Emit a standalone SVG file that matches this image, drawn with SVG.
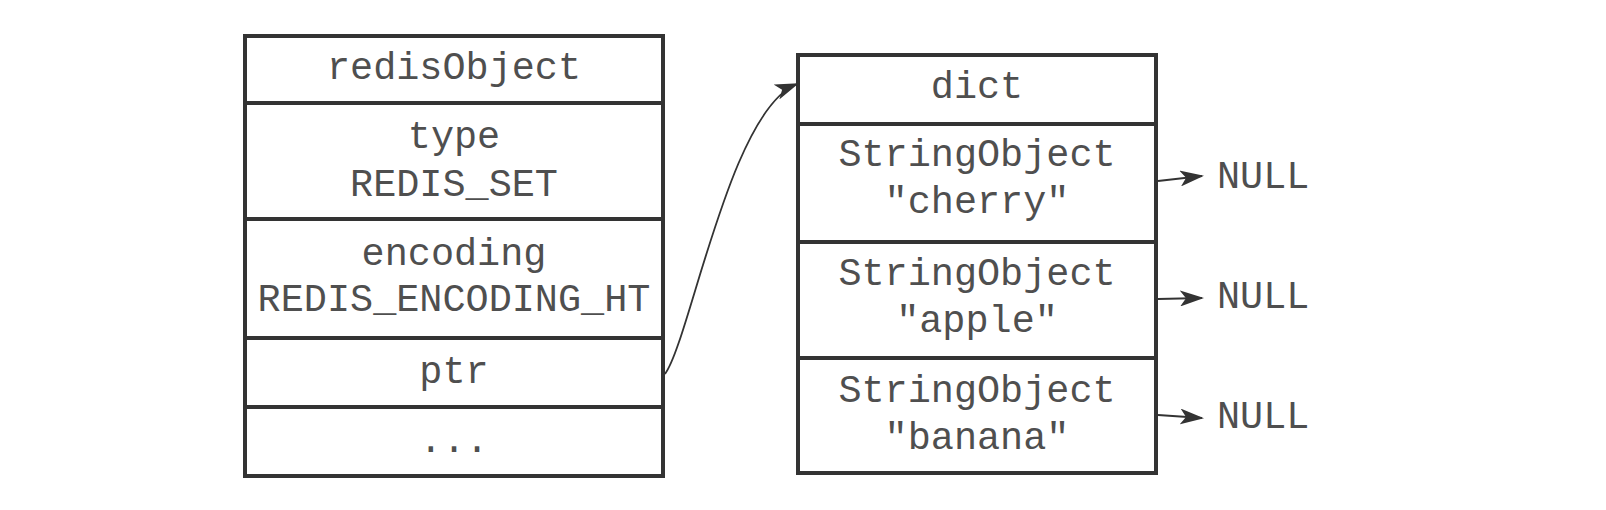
<svg xmlns="http://www.w3.org/2000/svg" width="1606" height="510" viewBox="0 0 1606 510">
<style>
.box{fill:#fff;stroke:#333;stroke-width:4}
.div{stroke:#333;stroke-width:4}
.t{font-family:"Liberation Mono","Courier New",monospace;font-size:38.5px;fill:#4f4f4f;text-anchor:middle}
.n{font-family:"Liberation Mono","Courier New",monospace;font-size:38.5px;fill:#4f4f4f}
.c{fill:none;stroke:#333;stroke-width:1.8}
</style>
<defs>
<marker id="ah" viewBox="0 0 24 16" refX="22" refY="8" markerWidth="24" markerHeight="16" markerUnits="userSpaceOnUse" orient="auto">
<path d="M0,0 L24,8 L0,16 L6,8 Z" fill="#333"/>
</marker>
</defs>
<rect width="1606" height="510" fill="#fff"/>
<g id="redisObject">
<rect class="box" x="245" y="36" width="418" height="440"/>
<line class="div" x1="245" y1="103" x2="663" y2="103"/>
<line class="div" x1="245" y1="219" x2="663" y2="219"/>
<line class="div" x1="245" y1="338" x2="663" y2="338"/>
<line class="div" x1="245" y1="407" x2="663" y2="407"/>
<text class="t" x="454" y="79">redisObject</text>
<text class="t" x="454" y="148">type</text>
<text class="t" x="454" y="196">REDIS_SET</text>
<text class="t" x="454" y="265">encoding</text>
<text class="t" x="454" y="311">REDIS_ENCODING_HT</text>
<text class="t" x="454" y="383">ptr</text>
<text class="t" x="454" y="452">...</text>
</g>
<g id="dict">
<rect class="box" x="798" y="55" width="358" height="418"/>
<line class="div" x1="798" y1="124" x2="1156" y2="124"/>
<line class="div" x1="798" y1="242" x2="1156" y2="242"/>
<line class="div" x1="798" y1="358" x2="1156" y2="358"/>
<text class="t" x="977" y="98">dict</text>
<text class="t" x="977" y="166">StringObject</text>
<text class="t" x="977" y="213">"cherry"</text>
<text class="t" x="977" y="285">StringObject</text>
<text class="t" x="977" y="332">"apple"</text>
<text class="t" x="977" y="402">StringObject</text>
<text class="t" x="977" y="449">"banana"</text>
</g>
<g id="null1"><text class="n" x="1217" y="188">NULL</text></g>
<g id="null2"><text class="n" x="1217" y="308">NULL</text></g>
<g id="null3"><text class="n" x="1217" y="428">NULL</text></g>
<g id="connectors">
<path class="c" d="M665,374 C690,340 730,110 797,84" marker-end="url(#ah)"/>
<path class="c" d="M1158,181 L1202,176" marker-end="url(#ah)"/>
<path class="c" d="M1158,299 L1202,298" marker-end="url(#ah)"/>
<path class="c" d="M1158,415 L1202,418" marker-end="url(#ah)"/>
</g>
</svg>
